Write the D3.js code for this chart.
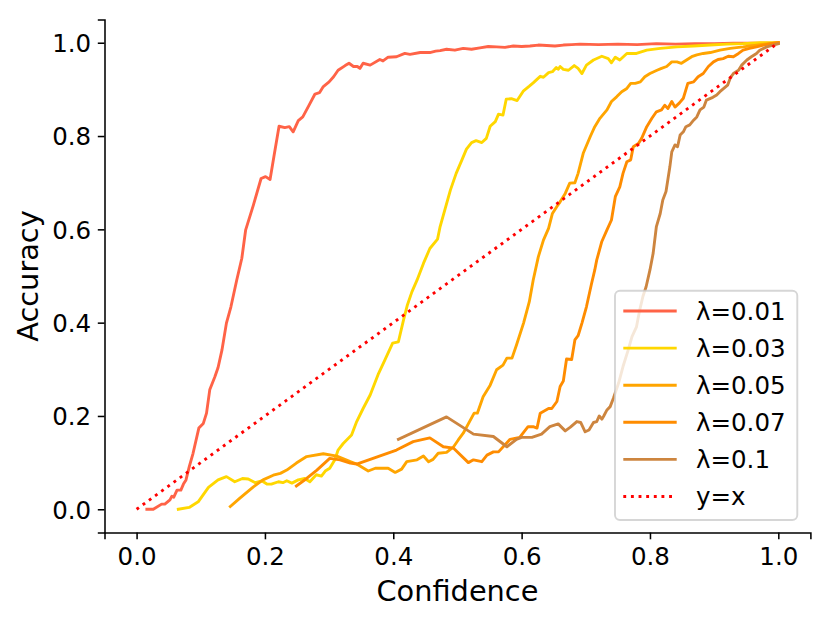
<!DOCTYPE html>
<html lang="en">
<head>
  <meta charset="UTF-8">
  <script src="https://d3js.org/d3.v7.min.js"></script>
  <title>Reliability curves</title>
  <style>
    body {
      margin: 0;
      background: #fff;
    }
    svg text {
      font-family: "DejaVu Sans", sans-serif;
      fill: #000;
    }
    .tick line, .domain {
      stroke: #000;
      stroke-width: 1.54px;
    }
  </style>
</head>
<body>
  <svg id="chart" width="830" height="623"></svg>

  <script>
    // confidence / accuracy pairs
    const lam001 = [
      [0.016, 0], [0.026, 0], [0.039, 0.011], [0.044, 0.011], [0.052, 0.020], [0.055, 0.028],
      [0.058, 0.026], [0.063, 0.041], [0.069, 0.041], [0.073, 0.054], [0.077, 0.063], [0.082, 0.091],
      [0.088, 0.120], [0.097, 0.174], [0.104, 0.184], [0.109, 0.206], [0.114, 0.256], [0.122, 0.284],
      [0.127, 0.304], [0.133, 0.341], [0.140, 0.399], [0.147, 0.434], [0.156, 0.491], [0.164, 0.538],
      [0.170, 0.599], [0.182, 0.652], [0.194, 0.709], [0.201, 0.713], [0.208, 0.707], [0.214, 0.756],
      [0.222, 0.821], [0.231, 0.818], [0.238, 0.820], [0.244, 0.809], [0.252, 0.833], [0.259, 0.841],
      [0.268, 0.864], [0.278, 0.890], [0.285, 0.893], [0.291, 0.906], [0.300, 0.916], [0.307, 0.927],
      [0.314, 0.941], [0.325, 0.951], [0.331, 0.956], [0.338, 0.949], [0.344, 0.949], [0.348, 0.945],
      [0.353, 0.956], [0.364, 0.952], [0.379, 0.964], [0.384, 0.961], [0.392, 0.969], [0.405, 0.970],
      [0.418, 0.977], [0.426, 0.975], [0.442, 0.979], [0.457, 0.979], [0.466, 0.982], [0.473, 0.983],
      [0.483, 0.986], [0.496, 0.984], [0.509, 0.988], [0.522, 0.986], [0.535, 0.989], [0.548, 0.992],
      [0.561, 0.991], [0.574, 0.990], [0.587, 0.993], [0.600, 0.992], [0.613, 0.993], [0.626, 0.995],
      [0.639, 0.994], [0.652, 0.993], [0.665, 0.995], [0.678, 0.996], [0.691, 0.997], [0.720, 0.996],
      [0.750, 0.997], [0.780, 0.996], [0.810, 0.998], [0.840, 0.997], [0.870, 0.998], [0.900, 0.998],
      [0.930, 0.999], [0.960, 0.999], [0.990, 0.999], [1.000, 1.000]
    ];

    const lam003 = [
      [0.065, 0], [0.082, 0.004], [0.096, 0.016], [0.112, 0.047], [0.127, 0.063], [0.140, 0.070],
      [0.153, 0.059], [0.165, 0.066], [0.174, 0.065], [0.185, 0.057], [0.195, 0.061], [0.203, 0.054],
      [0.210, 0.054], [0.221, 0.059], [0.228, 0.057], [0.234, 0.061], [0.242, 0.056], [0.252, 0.063],
      [0.262, 0.066], [0.270, 0.059], [0.280, 0.074], [0.288, 0.071], [0.294, 0.082], [0.301, 0.088],
      [0.309, 0.106], [0.314, 0.127], [0.322, 0.141], [0.335, 0.159], [0.343, 0.188], [0.353, 0.216],
      [0.364, 0.245], [0.377, 0.291], [0.387, 0.320], [0.399, 0.356], [0.408, 0.359], [0.416, 0.406],
      [0.422, 0.438], [0.429, 0.466], [0.437, 0.491], [0.447, 0.527], [0.457, 0.559], [0.469, 0.579],
      [0.473, 0.606], [0.481, 0.645], [0.489, 0.684], [0.498, 0.720], [0.507, 0.749], [0.514, 0.772],
      [0.522, 0.786], [0.529, 0.790], [0.538, 0.786], [0.545, 0.795], [0.551, 0.821], [0.559, 0.831],
      [0.564, 0.847], [0.571, 0.845], [0.576, 0.879], [0.584, 0.880], [0.593, 0.876], [0.603, 0.897],
      [0.612, 0.907], [0.618, 0.914], [0.629, 0.928], [0.634, 0.926], [0.642, 0.936], [0.648, 0.938],
      [0.654, 0.947], [0.657, 0.943], [0.660, 0.949], [0.665, 0.943], [0.673, 0.941], [0.682, 0.951],
      [0.688, 0.945], [0.694, 0.934], [0.701, 0.952], [0.712, 0.963], [0.725, 0.971], [0.735, 0.966],
      [0.740, 0.957], [0.746, 0.969], [0.753, 0.963], [0.764, 0.977], [0.779, 0.977], [0.795, 0.984],
      [0.816, 0.988], [0.842, 0.991], [0.868, 0.993], [0.894, 0.995], [0.920, 0.997], [0.945, 0.998],
      [0.971, 1.000], [1.000, 1.000]
    ];

    const lam005 = [
      [0.146, 0.006], [0.161, 0.024], [0.182, 0.048], [0.197, 0.063], [0.213, 0.073], [0.224, 0.077],
      [0.234, 0.084], [0.249, 0.099], [0.265, 0.113], [0.291, 0.119], [0.312, 0.114], [0.333, 0.102],
      [0.343, 0.097], [0.361, 0.082], [0.372, 0.088], [0.392, 0.088], [0.403, 0.079], [0.413, 0.086],
      [0.421, 0.102], [0.437, 0.106], [0.447, 0.114], [0.455, 0.102], [0.462, 0.107], [0.470, 0.120],
      [0.483, 0.122], [0.494, 0.134], [0.501, 0.148], [0.509, 0.163], [0.526, 0.206], [0.531, 0.206],
      [0.540, 0.241], [0.551, 0.266], [0.561, 0.299], [0.571, 0.309], [0.577, 0.324], [0.585, 0.324],
      [0.592, 0.352], [0.603, 0.399], [0.612, 0.445], [0.618, 0.491], [0.626, 0.541], [0.634, 0.577],
      [0.642, 0.602], [0.648, 0.634], [0.655, 0.649], [0.660, 0.659], [0.668, 0.677], [0.675, 0.699],
      [0.683, 0.700], [0.688, 0.720], [0.696, 0.763], [0.707, 0.799], [0.714, 0.820], [0.722, 0.838],
      [0.733, 0.856], [0.740, 0.874], [0.748, 0.884], [0.756, 0.895], [0.764, 0.902], [0.770, 0.913],
      [0.777, 0.913], [0.785, 0.916], [0.792, 0.927], [0.800, 0.934], [0.811, 0.941], [0.818, 0.945],
      [0.826, 0.949], [0.834, 0.959], [0.842, 0.959], [0.849, 0.956], [0.857, 0.963], [0.865, 0.970],
      [0.873, 0.974], [0.883, 0.977], [0.894, 0.979], [0.909, 0.984], [0.925, 0.988], [0.945, 0.991],
      [0.966, 0.995], [0.986, 0.998], [1.000, 1.000]
    ];

    const lam007 = [
      [0.249, 0.050], [0.265, 0.066], [0.281, 0.084], [0.301, 0.109], [0.317, 0.106], [0.333, 0.099],
      [0.343, 0.097], [0.405, 0.127], [0.431, 0.145], [0.457, 0.153], [0.478, 0.134], [0.494, 0.131],
      [0.517, 0.100], [0.525, 0.106], [0.538, 0.102], [0.546, 0.116], [0.556, 0.123], [0.564, 0.123],
      [0.582, 0.150], [0.597, 0.154], [0.610, 0.177], [0.618, 0.177], [0.624, 0.174], [0.629, 0.206],
      [0.642, 0.216], [0.647, 0.216], [0.655, 0.231], [0.660, 0.263], [0.665, 0.275], [0.670, 0.322],
      [0.678, 0.321], [0.683, 0.363], [0.688, 0.372], [0.694, 0.399], [0.701, 0.434], [0.709, 0.484],
      [0.714, 0.513], [0.717, 0.534], [0.725, 0.574], [0.733, 0.599], [0.740, 0.620], [0.746, 0.670],
      [0.753, 0.691], [0.758, 0.720], [0.764, 0.745], [0.770, 0.749], [0.774, 0.777], [0.782, 0.784],
      [0.787, 0.795], [0.795, 0.820], [0.803, 0.838], [0.810, 0.852], [0.818, 0.856], [0.823, 0.866],
      [0.828, 0.859], [0.834, 0.874], [0.839, 0.862], [0.846, 0.871], [0.852, 0.881], [0.859, 0.913],
      [0.868, 0.916], [0.875, 0.927], [0.883, 0.934], [0.891, 0.949], [0.899, 0.959], [0.906, 0.964],
      [0.914, 0.966], [0.922, 0.971], [0.930, 0.970], [0.938, 0.977], [0.945, 0.984], [0.955, 0.988],
      [0.966, 0.991], [0.977, 0.995], [0.988, 0.998], [1.000, 1.000]
    ];

    const lam01 = [
      [0.408, 0.150], [0.483, 0.198], [0.525, 0.161], [0.556, 0.156], [0.577, 0.134], [0.592, 0.150],
      [0.600, 0.154], [0.616, 0.154], [0.631, 0.161], [0.644, 0.177], [0.657, 0.183], [0.668, 0.168],
      [0.676, 0.176], [0.686, 0.188], [0.692, 0.186], [0.699, 0.166], [0.705, 0.170], [0.712, 0.186],
      [0.717, 0.188], [0.721, 0.200], [0.725, 0.193], [0.728, 0.200], [0.733, 0.213], [0.738, 0.220],
      [0.743, 0.238], [0.751, 0.270], [0.758, 0.306], [0.766, 0.341], [0.772, 0.370], [0.779, 0.391],
      [0.784, 0.427], [0.789, 0.456], [0.794, 0.477], [0.800, 0.513], [0.805, 0.549], [0.810, 0.606],
      [0.816, 0.634], [0.820, 0.663], [0.825, 0.681], [0.831, 0.734], [0.834, 0.766], [0.839, 0.781],
      [0.843, 0.777], [0.847, 0.802], [0.852, 0.809], [0.856, 0.820], [0.862, 0.824], [0.868, 0.834],
      [0.873, 0.841], [0.878, 0.856], [0.884, 0.862], [0.888, 0.877], [0.898, 0.883], [0.904, 0.888],
      [0.909, 0.895], [0.915, 0.902], [0.921, 0.909], [0.925, 0.924], [0.930, 0.934], [0.938, 0.941],
      [0.943, 0.952], [0.951, 0.963], [0.958, 0.970], [0.966, 0.977], [0.971, 0.984], [0.982, 0.991],
      [0.992, 0.995], [1.000, 0.998]
    ];

    const identity = [[0, 0], [1, 1]];

    const labels = ["λ=0.01", "λ=0.03", "λ=0.05", "λ=0.07", "λ=0.1", "y=x"];
    const colors = ["tomato", "gold", "orange", "darkorange", "peru", "red"];
    const tickValues = [0, 0.2, 0.4, 0.6, 0.8, 1.0];

    const series = [lam001, lam003, lam005, lam007, lam01, identity];

    const plotLeft = 104.5, plotRight = 810.4, plotTop = 19.4, plotBottom = 532.6;
    const lw = 2.88;

    const svg = d3.select("#chart");

    const x = d3.scaleLinear().domain([-0.05, 1.05]).range([plotLeft, plotRight]);
    const y = d3.scaleLinear().domain([-0.05, 1.05]).range([plotBottom, plotTop]);

    const line = d3.line()
      .x(d => x(d[0]))
      .y(d => y(d[1]));

    svg.selectAll(".curve")
      .data(series)
      .enter()
      .append("path")
      .attr("class", "curve")
      .attr("d", line)
      .attr("fill", "none")
      .attr("stroke", (d, i) => colors[i])
      .attr("stroke-width", lw)
      .attr("stroke-linejoin", "round")
      .attr("stroke-linecap", (d, i) => i === 5 ? "butt" : "square")
      .attr("stroke-dasharray", (d, i) => i === 5 ? `${lw},${lw * 1.65}` : null);

    const xAxis = svg.append("g")
      .attr("transform", `translate(0,${plotBottom})`)
      .call(d3.axisBottom(x).tickValues(tickValues).tickFormat(d3.format(".1f"))
        .tickSizeOuter(0).tickSize(6.7).tickPadding(8.5));
    xAxis.selectAll("text").attr("font-size", "24.5px");

    const yAxis = svg.append("g")
      .attr("transform", `translate(${plotLeft},0)`)
      .call(d3.axisLeft(y).tickValues(tickValues).tickFormat(d3.format(".1f"))
        .tickSizeOuter(0).tickSize(6.7).tickPadding(6.7));
    yAxis.selectAll("text").attr("font-size", "24.5px").attr("dy", "0.36em");

    svg.selectAll(".tick text").attr("font-family", "DejaVu Sans");

    svg.append("text")
      .attr("x", (plotLeft + plotRight) / 2)
      .attr("y", 601)
      .attr("text-anchor", "middle")
      .attr("font-size", "28.8px")
      .text("Confidence");

    svg.append("text")
      .attr("transform", `translate(38,${(plotTop + plotBottom) / 2}) rotate(-90)`)
      .attr("text-anchor", "middle")
      .attr("font-size", "28.8px")
      .text("Accuracy");

    // legend, lower right
    const legend = svg.append("g");
    const lx = 615, ly = 290.7, lwid = 182.3, lht = 229.3;

    legend.append("rect")
      .attr("x", lx)
      .attr("y", ly)
      .attr("width", lwid)
      .attr("height", lht)
      .attr("rx", 5)
      .attr("fill", "#fff")
      .attr("fill-opacity", 0.8)
      .attr("stroke", "#cccccc")
      .attr("stroke-opacity", 0.8)
      .attr("stroke-width", 1.9);

    const rows = legend.selectAll(".entry")
      .data(labels)
      .enter()
      .append("g")
      .attr("class", "entry")
      .attr("transform", (d, i) => `translate(0,${311 + i * 37.1})`);

    rows.append("line")
      .attr("x1", 623.3)
      .attr("x2", 676.7)
      .attr("stroke", (d, i) => colors[i])
      .attr("stroke-width", lw)
      .attr("stroke-dasharray", (d, i) => i === 5 ? `${lw},${lw * 1.65}` : null);

    rows.append("text")
      .attr("x", 696)
      .attr("dy", "0.36em")
      .attr("font-size", "24.5px")
      .text(d => d);
  </script>
</body>
</html>
